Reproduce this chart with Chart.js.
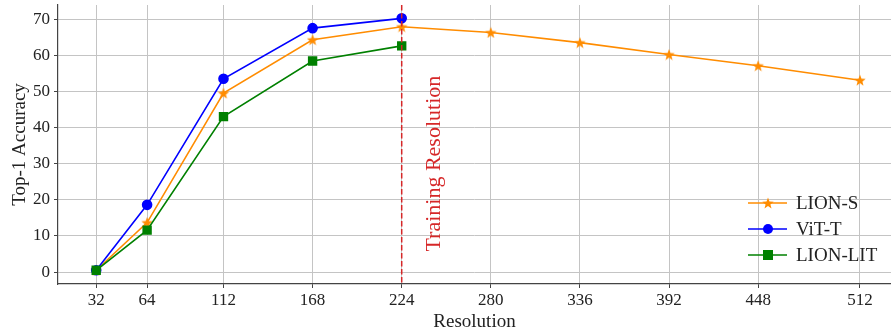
<!DOCTYPE html>
<html>
<head>
<meta charset="utf-8">
<script src="https://cdn.jsdelivr.net/npm/chart.js@4/dist/chart.umd.min.js"></script>
<style>
  html, body { margin: 0; padding: 0; background: #fff; }
  #wrap { width: 891px; height: 333px; }
</style>
</head>
<body>
<div id="wrap"><canvas id="chartRes"></canvas></div>
<script>
// data
const resolutions = [32, 64, 112, 168, 224, 280, 336, 392, 448, 512];
const lionS   = [0.5, 13.7, 49.5, 64.3, 67.9, 66.3, 63.5, 60.2, 57.1, 53.1];
const vitT    = [0.5, 18.6, 53.5, 67.5, 70.2];
const lionLit = [0.5, 11.6, 43.0, 58.4, 62.6];
const xTicks = [32, 64, 112, 168, 224, 280, 336, 392, 448, 512];
const yTicks = [0, 10, 20, 30, 40, 50, 60, 70];
const trainRes = 224;

const SERIF = '"Liberation Serif", "DejaVu Serif", serif';
const TXT = '#222';

// filled star like matplotlib '*'
function starImg(size, color) {
  const c = document.createElement('canvas');
  c.width = size; c.height = size;
  const g = c.getContext('2d');
  const cx = size / 2, cy = size / 2, ro = size / 2, ri = ro * 0.42;
  g.beginPath();
  for (let i = 0; i < 10; i++) {
    const r = i % 2 ? ri : ro;
    const a = -Math.PI / 2 + i * Math.PI / 5;
    const px = cx + r * Math.cos(a), py = cy + r * Math.sin(a) + size * 0.05;
    if (i === 0) g.moveTo(px, py); else g.lineTo(px, py);
  }
  g.closePath();
  g.fillStyle = color;
  g.fill();
  return c;
}
const star = starImg(12, '#ff8c00');

function pts(vals) {
  return vals.map((v, i) => ({ x: resolutions[i], y: v }));
}

// vertical training-resolution line, label and legend
const extras = {
  id: 'extras',
  afterDatasetsDraw(chart) {
    const ctx = chart.ctx;
    const xs = chart.scales.x, ys = chart.scales.y;
    const area = chart.chartArea;
    const px = xs.getPixelForValue(trainRes);
    ctx.save();
    ctx.strokeStyle = '#d62728';
    ctx.lineWidth = 1.5;
    ctx.setLineDash([5.5, 2.5]);
    ctx.beginPath();
    ctx.moveTo(px, area.top);
    ctx.lineTo(px, area.bottom);
    ctx.stroke();
    ctx.setLineDash([]);

    ctx.translate(xs.getPixelForValue(244.5), ys.getPixelForValue(30));
    ctx.rotate(-Math.PI / 2);
    ctx.fillStyle = '#d62728';
    ctx.font = '22px ' + SERIF;
    ctx.textAlign = 'center';
    ctx.textBaseline = 'middle';
    ctx.fillText('Training Resolution', 0, 0);
    ctx.restore();

    // legend, no frame
    ctx.save();
    const rows = [203, 229, 255];
    chart.data.datasets.forEach((ds, i) => {
      const y = rows[i];
      ctx.strokeStyle = ds.borderColor;
      ctx.lineWidth = 1.5;
      ctx.beginPath();
      ctx.moveTo(748, y);
      ctx.lineTo(787, y);
      ctx.stroke();
      ctx.fillStyle = ds.borderColor;
      if (ds.pointStyle === 'circle') {
        ctx.beginPath();
        ctx.arc(768, y, 5, 0, Math.PI * 2);
        ctx.fill();
      } else if (ds.pointStyle === 'rect') {
        ctx.fillRect(763, y - 5, 10, 10);
      } else {
        ctx.drawImage(star, 762, y - 6);
      }
      ctx.fillStyle = TXT;
      ctx.font = '19px ' + SERIF;
      ctx.textAlign = 'left';
      ctx.textBaseline = 'middle';
      ctx.fillText(ds.label, 796, y + 1);
    });
    ctx.restore();
  }
};

const cfg = {
  type: 'line',
  data: {
    datasets: [
      {
        label: 'LION-S', data: pts(lionS),
        borderColor: '#ff8c00', backgroundColor: '#ff8c00',
        borderWidth: 1.6, pointStyle: star, pointRadius: 6, order: 2
      },
      {
        label: 'ViT-T', data: pts(vitT),
        borderColor: '#0000ff', backgroundColor: '#0000ff',
        borderWidth: 1.6, pointStyle: 'circle', pointRadius: 4.5, order: 1
      },
      {
        label: 'LION-LIT', data: pts(lionLit),
        borderColor: '#008000', backgroundColor: '#008000',
        borderWidth: 1.6, pointStyle: 'rect', pointRadius: 5.5, order: 0
      }
    ]
  },
  options: {
    responsive: true,
    maintainAspectRatio: false,
    animation: false,
    layout: { autoPadding: false, padding: { top: 5, right: 0, left: 0, bottom: 0 } },
    plugins: {
      legend: { display: false },
      tooltip: { enabled: false }
    },
    elements: { line: { tension: 0 } },
    scales: {
      x: {
        type: 'linear',
        min: 8,
        max: 531.5,
        afterBuildTicks(s) { s.ticks = xTicks.map(v => ({ value: v })); },
        afterFit(s) { s.height = 49; s.paddingLeft = 0; s.paddingRight = 0; },
        ticks: {
          autoSkip: false, maxRotation: 0, padding: 2,
          color: TXT, font: { family: SERIF, size: 17 }
        },
        grid: { color: '#c4c4c4', lineWidth: 1, tickLength: 4, tickColor: '#444' },
        border: { display: true, color: '#444', width: 1.2 },
        title: {
          display: true, text: 'Resolution', color: TXT,
          font: { family: SERIF, size: 19 }, padding: { top: 0, bottom: 0 }
        }
      },
      y: {
        min: -3.3,
        max: 73.9,
        afterBuildTicks(s) { s.ticks = yTicks.map(v => ({ value: v })); },
        afterFit(s) { s.width = 58; s.paddingTop = 0; s.paddingBottom = 0; },
        ticks: {
          padding: 4, color: TXT, font: { family: SERIF, size: 17 }
        },
        grid: { color: '#c4c4c4', lineWidth: 1, tickLength: 4, tickColor: '#444' },
        border: { display: true, color: '#444', width: 1.2 },
        title: {
          display: true, text: 'Top-1 Accuracy', color: TXT,
          font: { family: SERIF, size: 19 }, padding: { top: 9, bottom: 0 }
        }
      }
    }
  },
  plugins: [extras]
};

new Chart(document.getElementById('chartRes'), cfg);
</script>
</body>
</html>
